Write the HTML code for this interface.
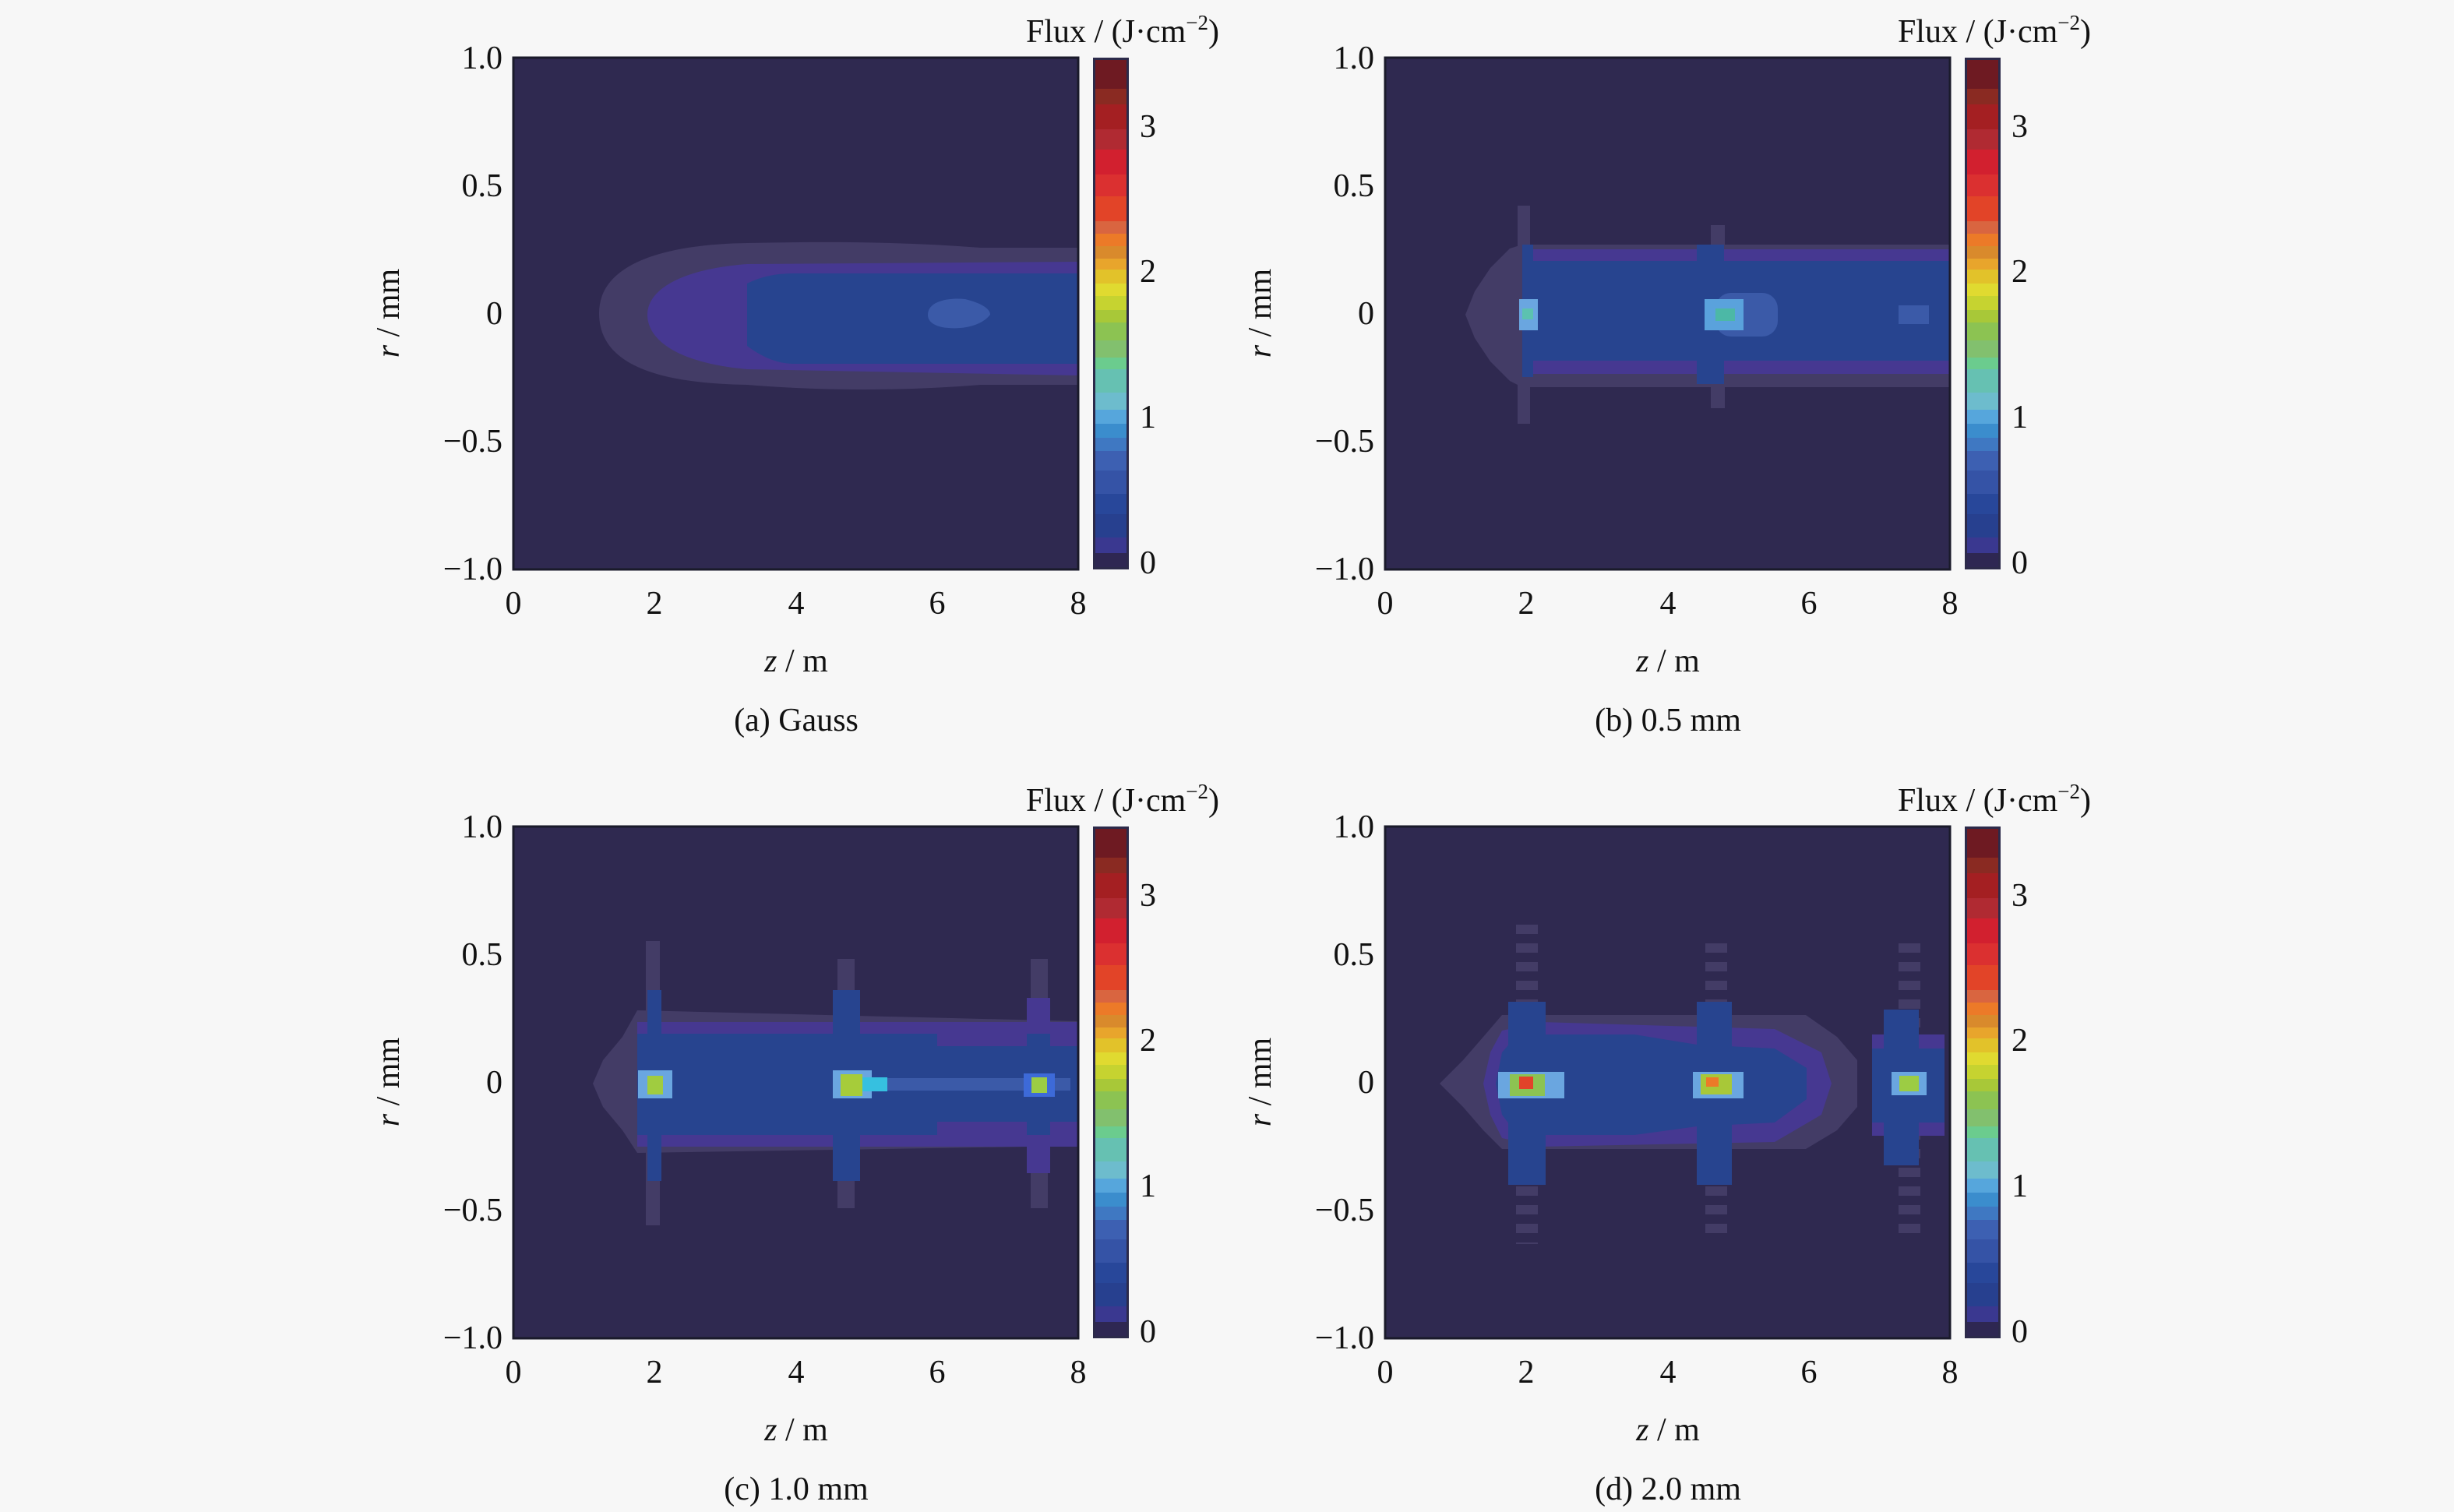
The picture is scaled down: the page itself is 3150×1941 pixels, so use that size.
<!DOCTYPE html>
<html><head><meta charset="utf-8"><style>
html,body{margin:0;padding:0;background:#f7f7f7;}
svg{display:block;}
text{font-family:"Liberation Serif",serif;fill:#111;}
</style></head><body>
<svg width="3150" height="1941" viewBox="0 0 3150 1941" xmlns="http://www.w3.org/2000/svg">
<defs>
<g id="cbar">
<rect x="0" y="0" width="46" height="657" fill="#2c2a4a"/>
<rect x="3" y="3" width="40" height="651" fill="#2e2752"/>
<g>
<rect x="3" y="616" width="40" height="20" fill="#3a3890"/>
<rect x="3" y="586" width="40" height="30" fill="#27408f"/>
<rect x="3" y="560" width="40" height="26" fill="#28479a"/>
<rect x="3" y="530" width="40" height="30" fill="#3553a6"/>
<rect x="3" y="505" width="40" height="25" fill="#3d60b2"/>
<rect x="3" y="488" width="40" height="17" fill="#3f78c2"/>
<rect x="3" y="470" width="40" height="18" fill="#3b8dcd"/>
<rect x="3" y="452" width="40" height="18" fill="#56a6dc"/>
<rect x="3" y="430" width="40" height="22" fill="#6dbccd"/>
<rect x="3" y="400" width="40" height="30" fill="#66c1b2"/>
<rect x="3" y="385" width="40" height="15" fill="#6bcc8e"/>
<rect x="3" y="363" width="40" height="22" fill="#82c06e"/>
<rect x="3" y="340" width="40" height="23" fill="#8cc352"/>
<rect x="3" y="324" width="40" height="16" fill="#a8c838"/>
<rect x="3" y="306" width="40" height="18" fill="#c6d330"/>
<rect x="3" y="290" width="40" height="16" fill="#e0da30"/>
<rect x="3" y="272" width="40" height="18" fill="#e2c22a"/>
<rect x="3" y="258" width="40" height="14" fill="#e8a52c"/>
<rect x="3" y="242" width="40" height="16" fill="#d98a2c"/>
<rect x="3" y="226" width="40" height="16" fill="#ec7a28"/>
<rect x="3" y="210" width="40" height="16" fill="#d96540"/>
<rect x="3" y="178" width="40" height="32" fill="#e24428"/>
<rect x="3" y="150" width="40" height="28" fill="#db3030"/>
<rect x="3" y="118" width="40" height="32" fill="#d2202f"/>
<rect x="3" y="92" width="40" height="26" fill="#b02a32"/>
<rect x="3" y="60" width="40" height="32" fill="#a41f22"/>
<rect x="3" y="40" width="40" height="20" fill="#8a2a22"/>
<rect x="3" y="3" width="40" height="37" fill="#6e1a22"/>
</g>
</g>
</defs>

<!-- Panel A -->
<g transform="translate(659,74)">
<rect x="0" y="0" width="725" height="657" fill="#2f2950"/>
<path d="M110,328 C110,270 180,240 300,238 C400,236 500,236 600,244 L725,244 L725,420 L600,420 C500,428 400,428 300,420 C180,418 110,392 110,328 Z" fill="#433c66"/>
<path d="M172,330 C172,300 210,272 300,265 L725,262 L725,408 L300,400 C210,392 172,362 172,330 Z" fill="#463891"/>
<path d="M300,290 C320,280 340,277 360,277 L725,277 L725,393 L360,393 C340,393 320,385 300,370 Z" fill="#27448f"/>
<path d="M532,330 C532,312 560,308 580,310 C600,315 612,322 612,330 C600,345 575,350 550,346 C538,343 532,338 532,330 Z" fill="#3b5aa8"/>
<rect x="0" y="0" width="725" height="657" fill="none" stroke="#1a1a2a" stroke-width="3"/>
</g>
<use href="#cbar" x="1403" y="74"/>

<!-- Panel B -->
<g transform="translate(1778,74)">
<rect x="0" y="0" width="725" height="657" fill="#2f2950"/>
<path d="M103,330 L115,300 L135,270 L160,245 L176,240 L725,240 L725,423 L176,423 L160,415 L135,390 L115,360 Z" fill="#433c66"/>
<rect x="170" y="190" width="16" height="280" fill="#433c66" stroke="#2f2950" stroke-width="0"/>
<rect x="418" y="215" width="18" height="235" fill="#433c66"/>
<rect x="176" y="246" width="549" height="160" fill="#463891"/>
<rect x="176" y="261" width="549" height="128" fill="#27448f"/>
<rect x="176" y="240" width="14" height="170" fill="#27448f"/>
<rect x="400" y="240" width="35" height="30" fill="#27448f"/>
<rect x="400" y="389" width="35" height="30" fill="#27448f"/>
<rect x="424" y="302" width="80" height="56" fill="#3b5aa8" rx="20"/>
<rect x="659" y="318" width="39" height="24" fill="#3b5aa8"/>
<rect x="172" y="310" width="24" height="40" fill="#6aa6e0"/>
<rect x="176" y="322" width="14" height="14" fill="#5cc2b0"/>
<rect x="410" y="310" width="50" height="40" fill="#5aa2dc"/>
<rect x="424" y="322" width="25" height="16" fill="#4cb8a6"/>
<rect x="0" y="0" width="725" height="657" fill="none" stroke="#1a1a2a" stroke-width="3"/>
</g>
<use href="#cbar" x="2522" y="74"/>

<!-- Panel C -->
<g transform="translate(659,1061)">
<rect x="0" y="0" width="725" height="657" fill="#2f2950"/>
<path d="M102,330 L115,300 L140,270 L159,236 L725,250 L725,410 L159,419 L140,390 L115,360 Z" fill="#433c66"/>
<rect x="170" y="147" width="18" height="365" fill="#433c66"/>
<rect x="416" y="170" width="22" height="320" fill="#433c66"/>
<rect x="664" y="170" width="22" height="320" fill="#433c66"/>
<rect x="159" y="251" width="566" height="160" fill="#463891"/>
<rect x="159" y="266" width="385" height="130" fill="#27448f"/>
<rect x="544" y="282" width="181" height="97" fill="#27448f"/>
<rect x="172" y="210" width="18" height="245" fill="#27448f"/>
<rect x="410" y="210" width="35" height="245" fill="#27448f"/>
<rect x="659" y="220" width="30" height="225" fill="#463891"/>
<rect x="659" y="266" width="30" height="130" fill="#27448f"/>
<rect x="415" y="323" width="300" height="16" fill="#3b5aa8"/>
<rect x="160" y="313" width="44" height="36" fill="#6aa6e0"/>
<rect x="172" y="320" width="20" height="24" fill="#a0cc40"/>
<rect x="410" y="313" width="50" height="36" fill="#6aa6e0"/>
<rect x="420" y="318" width="28" height="28" fill="#a6cc3a"/>
<rect x="448" y="322" width="32" height="18" fill="#36c0e0"/>
<rect x="655" y="317" width="40" height="30" fill="#3d6ad8"/>
<rect x="665" y="322" width="20" height="20" fill="#9ccc44"/>
<rect x="0" y="0" width="725" height="657" fill="none" stroke="#1a1a2a" stroke-width="3"/>
</g>
<use href="#cbar" x="1403" y="1061"/>

<!-- Panel D -->
<g transform="translate(1778,1061)">
<rect x="0" y="0" width="725" height="657" fill="#2f2950"/>
<path d="M70,330 L100,300 L126,270 L150,242 L540,242 L580,270 L606,300 L606,360 L580,390 L540,414 L150,414 L126,390 L100,360 Z" fill="#433c66"/>
<g stroke="#433c66" stroke-width="28" stroke-dasharray="12 12">
<line x1="182" y1="126" x2="182" y2="536"/>
<line x1="425" y1="150" x2="425" y2="530"/>
<line x1="673" y1="150" x2="673" y2="530"/>
</g>
<path d="M126,330 L135,290 L150,262 L200,251 L500,260 L560,290 L573,330 L560,370 L500,405 L200,411 L150,400 L135,370 Z" fill="#463891"/>
<path d="M142,330 L150,290 L170,267 L320,267 L400,280 L500,285 L541,310 L541,350 L500,380 L400,385 L320,396 L170,396 L150,370 Z" fill="#27448f"/>
<rect x="158" y="225" width="48" height="235" fill="#27448f"/>
<rect x="400" y="225" width="45" height="235" fill="#27448f"/>
<rect x="625" y="267" width="93" height="130" fill="#463891"/>
<rect x="640" y="235" width="45" height="200" fill="#27448f"/>
<rect x="625" y="285" width="93" height="95" fill="#27448f"/>
<rect x="145" y="315" width="85" height="34" fill="#6aa6e0"/>
<rect x="160" y="318" width="45" height="28" fill="#8cc352"/>
<rect x="172" y="321" width="18" height="16" fill="#e2432a"/>
<rect x="395" y="315" width="65" height="34" fill="#6aa6e0"/>
<rect x="405" y="318" width="40" height="26" fill="#a8c838"/>
<rect x="412" y="322" width="16" height="12" fill="#ec7a28"/>
<rect x="650" y="315" width="45" height="30" fill="#6aa6e0"/>
<rect x="660" y="320" width="25" height="20" fill="#9ccc44"/>
<rect x="0" y="0" width="725" height="657" fill="none" stroke="#1a1a2a" stroke-width="3"/>
</g>
<use href="#cbar" x="2522" y="1061"/>

<g font-size="42">
<g text-anchor="end">
<text x="645" y="88">1.0</text><text x="645" y="252">0.5</text><text x="645" y="416">0</text><text x="645" y="580">−0.5</text><text x="645" y="744">−1.0</text>
<text x="1764" y="88">1.0</text><text x="1764" y="252">0.5</text><text x="1764" y="416">0</text><text x="1764" y="580">−0.5</text><text x="1764" y="744">−1.0</text>
<text x="645" y="1075">1.0</text><text x="645" y="1239">0.5</text><text x="645" y="1403">0</text><text x="645" y="1567">−0.5</text><text x="645" y="1731">−1.0</text>
<text x="1764" y="1075">1.0</text><text x="1764" y="1239">0.5</text><text x="1764" y="1403">0</text><text x="1764" y="1567">−0.5</text><text x="1764" y="1731">−1.0</text>
</g>
<g text-anchor="middle">
<text x="659" y="788">0</text><text x="840" y="788">2</text><text x="1022" y="788">4</text><text x="1203" y="788">6</text><text x="1384" y="788">8</text>
<text x="1778" y="788">0</text><text x="1959" y="788">2</text><text x="2141" y="788">4</text><text x="2322" y="788">6</text><text x="2503" y="788">8</text>
<text x="659" y="1775">0</text><text x="840" y="1775">2</text><text x="1022" y="1775">4</text><text x="1203" y="1775">6</text><text x="1384" y="1775">8</text>
<text x="1778" y="1775">0</text><text x="1959" y="1775">2</text><text x="2141" y="1775">4</text><text x="2322" y="1775">6</text><text x="2503" y="1775">8</text>
<text x="1022" y="862"><tspan font-style="italic">z</tspan> / m</text>
<text x="2141" y="862"><tspan font-style="italic">z</tspan> / m</text>
<text x="1022" y="1849"><tspan font-style="italic">z</tspan> / m</text>
<text x="2141" y="1849"><tspan font-style="italic">z</tspan> / m</text>
<text x="1022" y="938">(a) Gauss</text>
<text x="2141" y="938">(b) 0.5 mm</text>
<text x="1022" y="1925">(c) 1.0 mm</text>
<text x="2141" y="1925">(d) 2.0 mm</text>
</g>
<g text-anchor="middle">
<text transform="translate(512,402) rotate(-90)"><tspan font-style="italic">r</tspan> / mm</text>
<text transform="translate(1631,402) rotate(-90)"><tspan font-style="italic">r</tspan> / mm</text>
<text transform="translate(512,1389) rotate(-90)"><tspan font-style="italic">r</tspan> / mm</text>
<text transform="translate(1631,1389) rotate(-90)"><tspan font-style="italic">r</tspan> / mm</text>
</g>
<g>
<text x="1463" y="176">3</text><text x="1463" y="362">2</text><text x="1463" y="549">1</text><text x="1463" y="736">0</text>
<text x="2582" y="176">3</text><text x="2582" y="362">2</text><text x="2582" y="549">1</text><text x="2582" y="736">0</text>
<text x="1463" y="1163">3</text><text x="1463" y="1349">2</text><text x="1463" y="1536">1</text><text x="1463" y="1723">0</text>
<text x="2582" y="1163">3</text><text x="2582" y="1349">2</text><text x="2582" y="1536">1</text><text x="2582" y="1723">0</text>
</g>
<g text-anchor="end">
<text x="1565" y="54">Flux / (J·cm<tspan font-size="27" dy="-16">−2</tspan><tspan dy="16">)</tspan></text>
<text x="2684" y="54">Flux / (J·cm<tspan font-size="27" dy="-16">−2</tspan><tspan dy="16">)</tspan></text>
<text x="1565" y="1041">Flux / (J·cm<tspan font-size="27" dy="-16">−2</tspan><tspan dy="16">)</tspan></text>
<text x="2684" y="1041">Flux / (J·cm<tspan font-size="27" dy="-16">−2</tspan><tspan dy="16">)</tspan></text>
</g>
</g>
</svg>
</body></html>
